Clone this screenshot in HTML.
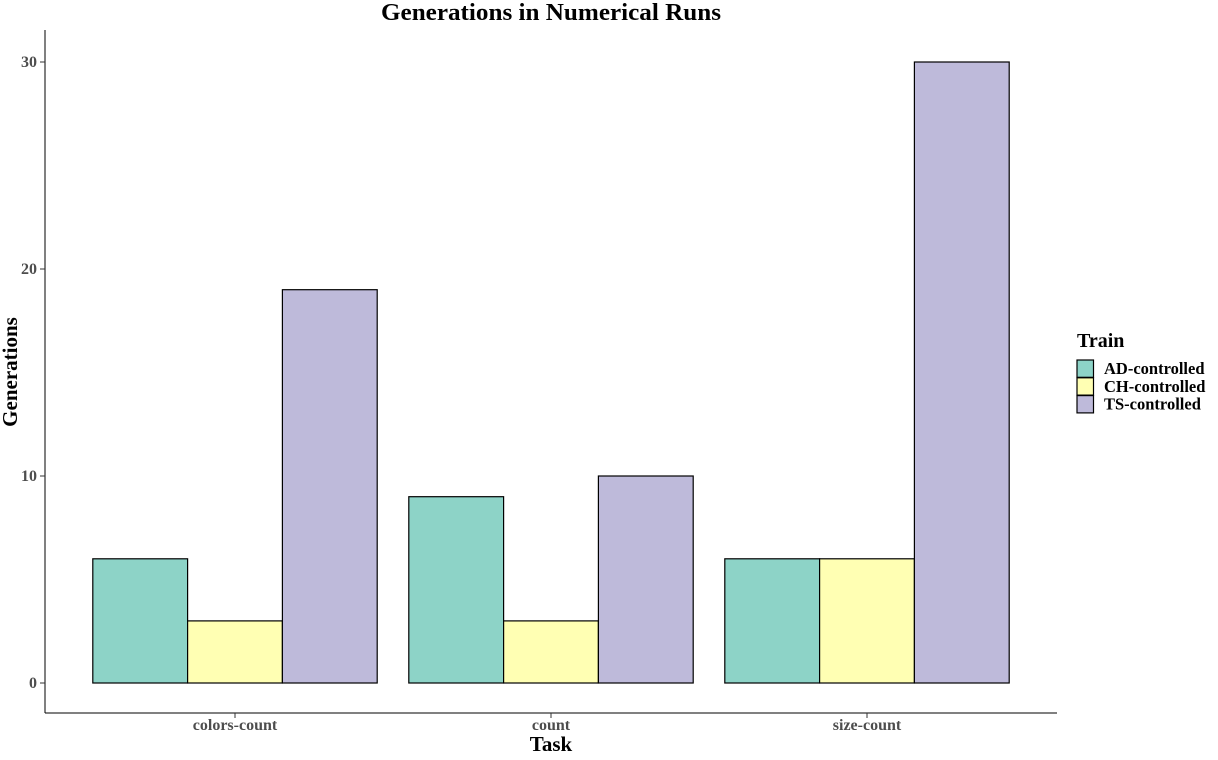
<!DOCTYPE html>
<html><head><meta charset="utf-8"><style>
body{margin:0;background:#fff;}
svg{display:block;font-family:"Liberation Serif",serif;font-weight:bold;}
</style></head><body>
<svg id="c" width="1218" height="760">
<text x="551" y="20" text-anchor="middle" font-size="24" textLength="340" lengthAdjust="spacingAndGlyphs">Generations in Numerical Runs</text>
<line x1="45" y1="30" x2="45" y2="713" stroke="#000"/>
<line x1="45" y1="713" x2="1057" y2="713" stroke="#000"/>
<g id="bars"></g><g id="ticks"></g>
<text x="551" y="751" text-anchor="middle" font-size="21">Task</text>
<text transform="translate(17,372) rotate(-90)" text-anchor="middle" font-size="21">Generations</text>
<text x="1077" y="347" font-size="20">Train</text>
<g id="legend"></g>
</svg>
<script>
const categories=["colors-count","count","size-count"];
const seriesNames=["AD-controlled","CH-controlled","TS-controlled"];
const adValues=[6,9,6];
const chValues=[3,3,6];
const tsValues=[19,10,30];
const yTicks=[0,10,20,30];
const colors=["#8DD3C7","#FFFFB3","#BEBADA"];
const NS="http://www.w3.org/2000/svg";
const y=v=>683-v*20.7;
const xc=i=>235+316*i;
const bw=94.8;
function mk(t,a,p){const e=document.createElementNS(NS,t);for(const k in a)e.setAttribute(k,a[k]);p.appendChild(e);return e;}
const bars=document.getElementById('bars');
[adValues,chValues,tsValues].forEach((vals,s)=>{
 vals.forEach((v,i)=>{
  const r=mk('rect',{x:xc(i)-1.5*bw+s*bw,y:y(v),width:bw,height:y(0)-y(v),fill:colors[s],stroke:"#000","stroke-width":1.2},bars);
  
  
 });
});
const tk=document.getElementById('ticks');
yTicks.forEach(t=>{
 const l=mk('line',{x1:40,x2:45,y1:y(t),y2:y(t),stroke:"#333"},tk);
 
 
 const tx=mk('text',{x:37,y:y(t)+5,"text-anchor":"end","font-size":16,fill:"#4d4d4d"},tk);
 tx.textContent=t;
 
 
});
categories.forEach((c,i)=>{
 const l=mk('line',{x1:xc(i),x2:xc(i),y1:713,y2:718,stroke:"#333"},tk);
 
 
 const tx=mk('text',{x:xc(i),y:730,"text-anchor":"middle","font-size":16,fill:"#4d4d4d"},tk);
 tx.textContent=c;
 
 
});
const lg=document.getElementById('legend');
seriesNames.forEach((n,s)=>{
 const r=mk('rect',{x:1077,y:360+s*17.8,width:16.5,height:17.3,fill:colors[s],stroke:"#000","stroke-width":1.2},lg);
 
 
 const t=mk('text',{x:1104,y:374+s*17.8,"font-size":16.5},lg);
 t.textContent=n;
 
 
});
</script>
</body></html>
